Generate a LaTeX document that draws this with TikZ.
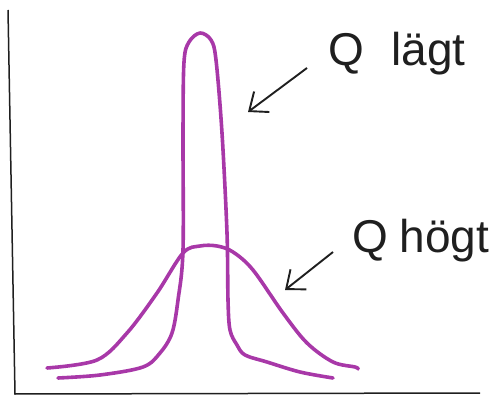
\documentclass[tikz,border=0pt]{standalone}
\usepackage{fontspec}
\setmainfont{Liberation Sans}
\usetikzlibrary{arrows.meta,positioning}
\definecolor{kurvlila}{rgb}{0.66,0.22,0.66}
\definecolor{penna}{rgb}{0.12,0.12,0.12}
\tikzset{
  axel/.style={
    line width=1.5pt,
    penna
  },
  kurva/.style={
    line width=3.6pt,
    kurvlila,
    line cap=round,
    line join=round
  },
  pil/.style={
    -{Straight Barb[length=5.5mm,width=9mm]},
    line width=1.9pt,
    penna
  },
  etikett/.style={
    font=\fontsize{46}{46}\selectfont,
    text=penna,
    inner sep=0pt,
    anchor=base west
  }
}

\begin{document}
\begin{tikzpicture}[x=1pt,y=-1pt]
\useasboundingbox (0,0) rectangle (493,398);
\coordinate (ytopp) at (8,10);
\coordinate (origo) at (15,394);
\coordinate (xslut) at (480,393);
\draw[axel] (ytopp) -- (origo) -- (xslut);
\draw[kurva] plot[smooth,tension=0.55] coordinates {
  (58,378) (100,375) (143,367) (160,353) (172,333) (178,300) (183,250)
  (183,133) (184,62) (189,42) (200,33) (211,40) (216,60) (222,133)
  (227,233) (228,300) (230,330) (237,345) (245,355) (267,362) (300,372) (333,378)};
\draw[kurva] plot[smooth,tension=0.55] coordinates {
  (47,368) (97,360) (127,333) (157,293) (183,253) (200,246) (217,246)
  (233,252) (253,270) (283,313) (307,343) (333,362) (355,367) (358,369)};
\node[etikett] (laagt) at (328,66) {Q\hspace{.6em}lägt};
\node[etikett] (hoegt) at (352,253) {Q\hspace{.25em}högt};
\coordinate (laagtpil) at (307,68);
\coordinate (laagtkurva) at (248,112);
\coordinate (hoegtpil) at (333,252);
\coordinate (hoegtkurva) at (285,290);
\draw[pil] (laagtpil) -- (laagtkurva);
\draw[pil] (hoegtpil) -- (hoegtkurva);
\end{tikzpicture}
\end{document}
